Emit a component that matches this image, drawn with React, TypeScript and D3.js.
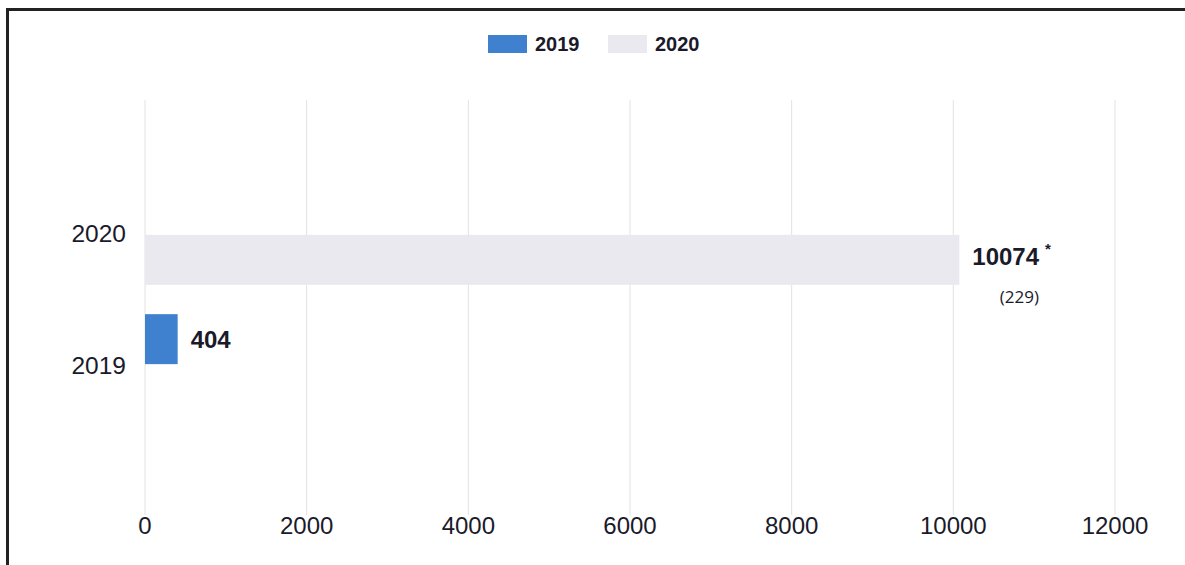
import React from "react";
import * as d3 from "d3";

const categories = ["2020", "2019"];
const series = ["2019", "2020"];
const values2019 = [0, 404];
const values2020 = [10074, 0];
const xTicks = [0, 2000, 4000, 6000, 8000, 10000, 12000];
const barLabels = ["10074", "404"];
const noteLabel = "(229)";

const W = 1185;
const H = 565;
const colors: Record<string, string> = { "2019": "#3f80cf", "2020": "#e9e9ef" };

export default function App() {
  const x = d3.scaleLinear().domain([0, 12000]).range([145, 1115]);
  const y = d3.scaleBand<string>().domain(categories).range([219, 380]).paddingInner(0.37).paddingOuter(0.2);
  const bw = y.bandwidth();
  const rows = categories.map((c, i) => ({
    cat: c,
    value: values2019[i] + values2020[i],
    color: values2019[i] > 0 ? colors["2019"] : colors["2020"],
    label: barLabels[i],
  }));
  const font = "Liberation Sans, Arial, sans-serif";
  return (
    <svg width={W} height={H} style={{ position: "absolute", left: 0, top: 0, background: "#fff" }}>
      <rect x={0} y={0} width={W} height={H} fill="#fff" />
      <path d="M7.5,10 L7.5,565 M6,9.5 L1185,9.5" stroke="#222" strokeWidth={3} fill="none" />
      {series.map((s, i) => {
        const lx = 488 + i * 120;
        return (
          <g key={s}>
            <rect x={lx} y={35} width={39} height={18} fill={colors[s]} />
            <text x={lx + 47} y={44} dy="0.35em" fontFamily={font} fontWeight="bold" fontSize={20} fill="#1a1a2a">
              {s}
            </text>
          </g>
        );
      })}
      {xTicks.map((t) => (
        <g key={t}>
          <line x1={x(t)} x2={x(t)} y1={100} y2={515} stroke="#e2e2e2" strokeWidth={1} />
          <text x={x(t)} y={526} dy="0.35em" textAnchor="middle" fontFamily={font} fontSize={24} fill="#1a1a2a">
            {t}
          </text>
        </g>
      ))}
      {rows.map((r, i) => {
        const y0 = y(r.cat)!;
        const labelY = i === 0 ? y0 - 1 : y0 + bw + 1;
        return (
          <g key={r.cat}>
            <rect x={x(0)} y={y0} width={x(r.value) - x(0)} height={bw} fill={r.color} />
            <text x={126} y={labelY} dy="0.35em" textAnchor="end" fontFamily={font} fontSize={24.5} fill="#1a1a2a">
              {r.cat}
            </text>
            <text x={x(r.value) + 13} y={y0 + bw / 2 - (i === 0 ? 3 : 0)} dy="0.35em" fontFamily={font} fontWeight="bold" fontSize={24} fill="#1a1a2a">
              {r.label}
              {i === 0 ? <tspan dx={6} dy={-11} fontSize={15}>*</tspan> : null}
            </text>
            {i === 0 ? (
              <text x={x(r.value) + 60} y={y0 + bw / 2 + 37} dy="0.35em" textAnchor="middle" fontFamily="Open Sans, sans-serif" fontSize={17} fill="#1a1a2a">
                {noteLabel}
              </text>
            ) : null}
          </g>
        );
      })}
    </svg>
  );
}
